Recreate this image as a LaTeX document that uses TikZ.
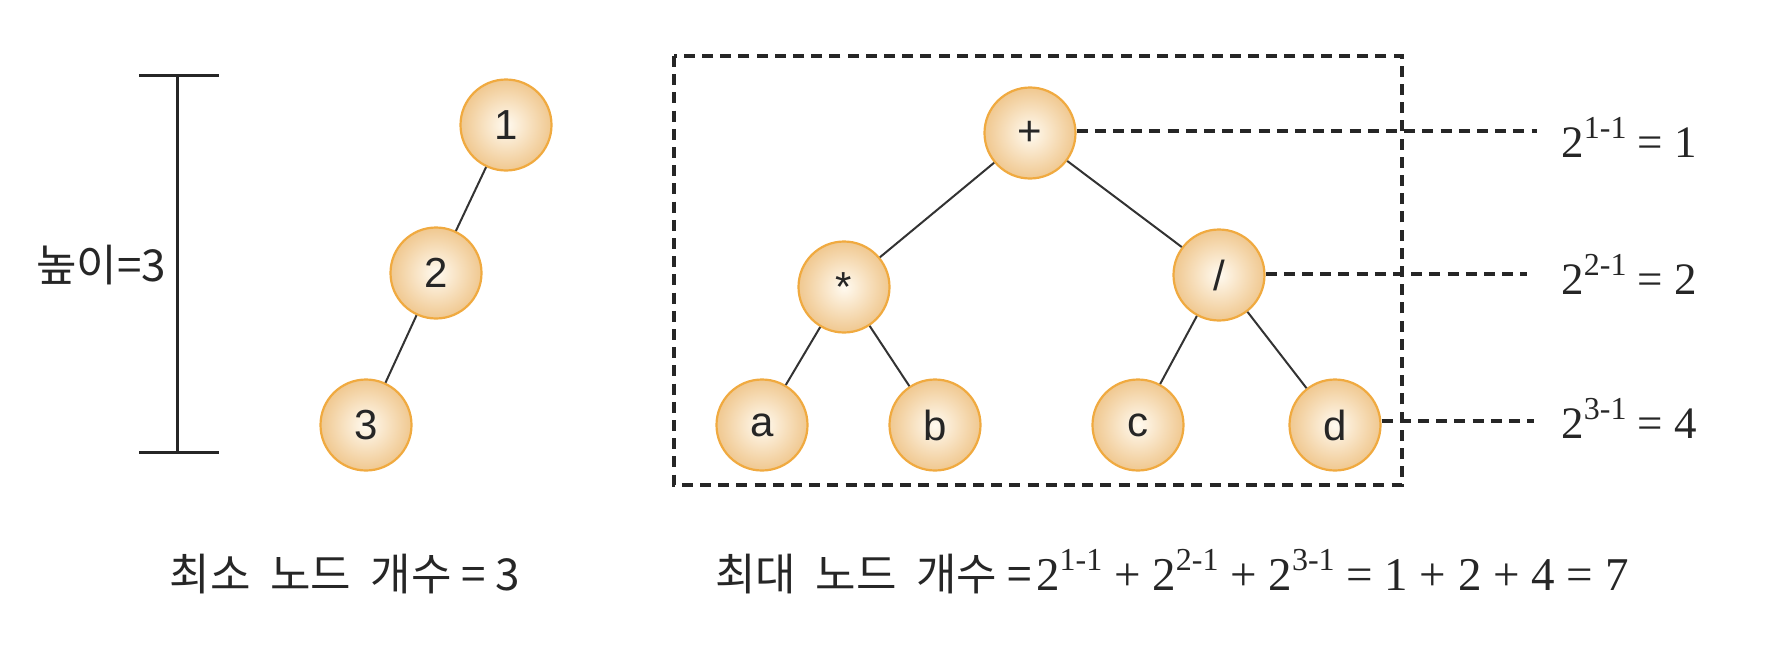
\documentclass[tikz,border=0pt]{standalone}
\usepackage{fontspec}
\setmainfont{Liberation Serif}
\setsansfont{Liberation Sans}
\newfontfamily\kr{Noto Sans CJK KR}
\definecolor{nodeborder}{HTML}{F0AA40}
\definecolor{nodein}{HTML}{FFFAF0}
\definecolor{nodeout}{HTML}{F0C890}
\definecolor{edgecol}{HTML}{333333}
\newcommand{\pw}[1]{\raisebox{0.42em}{\fontsize{16}{16}\selectfont #1}}
\tikzset{
  tn/.style={circle, draw=nodeborder, line width=1.1pt, inner color=nodein, outer color=nodeout,
    minimum size=45.5pt, inner sep=0pt, font=\sffamily\fontsize{21}{21}\selectfont, text=black!85},
  edge/.style={draw=edgecol, line width=1pt},
  dline/.style={draw=black!85, line width=1.6pt, dash pattern=on 5.5pt off 3.6pt},
  bar/.style={draw=black!85, line width=1.5pt},
  formula/.style={font=\fontsize{22.5}{22.5}\selectfont, text=black!85, inner sep=0pt},
  krlabel/.style={font=\kr\fontsize{21}{21}\selectfont, text=black!85, inner sep=0pt},
  bigformula/.style={font=\fontsize{23.5}{23.5}\selectfont, text=black!85, inner sep=0pt}
}
\begin{document}
\begin{tikzpicture}[x=0.5pt, y=-0.5pt]
\useasboundingbox (0,0) rectangle (1790,648);
% height bar
\coordinate (bt) at (177,75);
\coordinate (bb) at (177,452);
\draw[bar] (bt) -- (bb);
\draw[bar] (139,75) -- (219,75);
\draw[bar] (139,452) -- (219,452);
\node[krlabel, font=\kr\fontsize{22}{22}\selectfont] (hlab) at (101,265) {높이=3};
% left tree
\node[tn] (n1) at (506,125) {1};
\node[tn] (n2) at (436,273) {2};
\node[tn] (n3) at (366,425) {3};
\draw[edge] (n1) -- (n2);
\draw[edge] (n2) -- (n3);
% dashed box
\draw[dline] (674,56) rectangle (1402,485);
% right tree
\node[tn] (plus) at (1030,133) {+};
\node[tn] (mul) at (844,287) {*};
\node[tn] (div) at (1219,275) {/};
\node[tn] (a) at (762,425) {a};
\node[tn] (b) at (935,425) {b};
\node[tn] (c) at (1138,425) {c};
\node[tn] (d) at (1335,425) {d};
\draw[edge] (plus) -- (mul);
\draw[edge] (plus) -- (div);
\draw[edge] (mul) -- (a);
\draw[edge] (mul) -- (b);
\draw[edge] (div) -- (c);
\draw[edge] (div) -- (d);
% level dashed lines
\coordinate (e1) at (1537,131);
\coordinate (e2) at (1527,274);
\coordinate (e3) at (1534,421);
\draw[dline] (plus.east |- e1) -- (e1);
\draw[dline] (div.east |- e2) -- (e2);
\draw[dline] (d.east |- e3) -- (e3);
\node[formula, anchor=west] (f1) at (1561,137) {2\pw{1-1} = 1};
\node[formula, anchor=west] (f2) at (1561,274) {2\pw{2-1} = 2};
\node[formula, anchor=west] (f3) at (1561,418) {2\pw{3-1} = 4};
% bottom captions
\node[krlabel, font=\kr\fontsize{22}{22}\selectfont] (cap1) at (345,574) {최소\hspace{0.22em} 노드\hspace{0.22em} 개수 = 3};
\node[bigformula] (cap2) at (1172,572) {{\kr\fontsize{22}{22}\selectfont 최대\hspace{0.22em} 노드\hspace{0.22em} 개수 =}\hspace{0.1em}2\pw{1-1} + 2\pw{2-1} + 2\pw{3-1} = 1 + 2 + 4 = 7};
\end{tikzpicture}
\end{document}
